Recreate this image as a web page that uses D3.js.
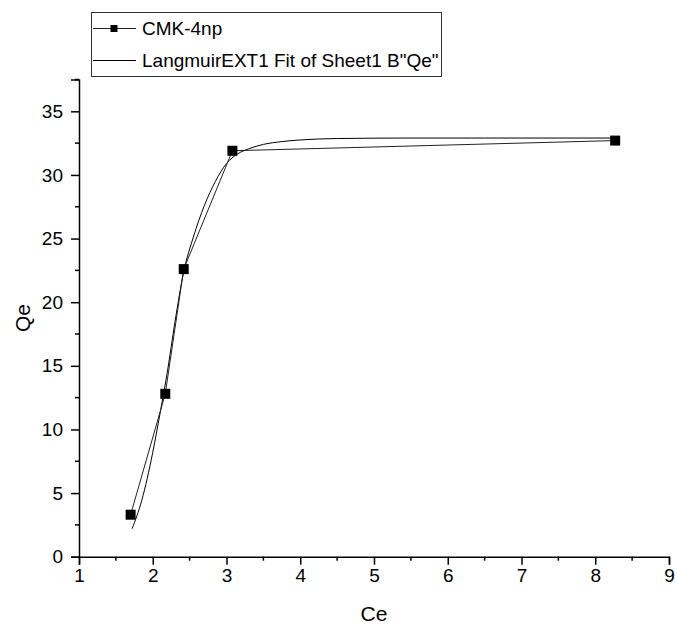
<!DOCTYPE html>
<html>
<head>
<meta charset="utf-8">
<script src="https://cdn.jsdelivr.net/npm/d3@7"></script>
<style>
  html, body { margin: 0; padding: 0; background: #fff; }
  svg { display: block; font-family: "Liberation Sans", Arial, sans-serif; }
</style>
</head>
<body>
<svg id="chart" width="675" height="631"></svg>
<script>
// Measured isotherm points (CMK-4np)
const ceValues = [1.70, 2.17, 2.42, 3.08, 8.27];
const qeValues = [3.3, 12.8, 22.6, 31.9, 32.7];

// LangmuirEXT1 fitted curve, sampled along Ce
const fitCe = [1.72, 1.85, 2.0, 2.1, 2.2, 2.3, 2.42, 2.55, 2.7, 2.85, 3.0, 3.15, 3.3, 3.5, 3.75, 4.0, 4.5, 5.5, 6.5, 7.5, 8.27];
const fitQe = [2.2, 4.4, 8.2, 11.3, 14.6, 18.4, 22.4, 25.1, 27.6, 29.5, 30.9, 31.65, 32.05, 32.4, 32.62, 32.75, 32.86, 32.9, 32.9, 32.9, 32.9];

const xTicks = [1, 2, 3, 4, 5, 6, 7, 8, 9];
const yTicks = [0, 5, 10, 15, 20, 25, 30, 35];
const xMinor = [1.5, 2.5, 3.5, 4.5, 5.5, 6.5, 7.5, 8.5];
const yMinor = [2.5, 7.5, 12.5, 17.5, 22.5, 27.5, 32.5, 37.5];

const seriesNames = ["CMK-4np", "LangmuirEXT1 Fit of Sheet1 B\"Qe\""];

const svg = d3.select("#chart");
const plotLeft = 79, plotRight = 669, plotTop = 79.5, plotBottom = 556.7;

const x = d3.scaleLinear().domain([1, 9]).range([plotLeft, plotRight]);
const y = d3.scaleLinear().domain([0, 37.5]).range([plotBottom, plotTop]);

const fontSize = 19;

// Fit curve
const fitData = fitCe.map((c, i) => [c, fitQe[i]]);
svg.append("path")
  .datum(fitData)
  .attr("fill", "none")
  .attr("stroke", "#000")
  .attr("stroke-width", 1)
  .attr("d", d3.line().x(d => x(d[0])).y(d => y(d[1])).curve(d3.curveMonotoneX));

// Data polyline
const pts = ceValues.map((c, i) => [c, qeValues[i]]);
svg.append("path")
  .datum(pts)
  .attr("fill", "none")
  .attr("stroke", "#222")
  .attr("stroke-width", 1)
  .attr("d", d3.line().x(d => x(d[0])).y(d => y(d[1])));

// Square markers
const ms = 10;
svg.selectAll("rect.pt").data(pts).enter().append("rect")
  .attr("class", "pt")
  .attr("x", d => x(d[0]) - ms / 2)
  .attr("y", d => y(d[1]) - ms / 2)
  .attr("width", ms).attr("height", ms)
  .attr("fill", "#000");

// X axis
const xAxis = svg.append("g").attr("transform", `translate(0,${plotBottom})`)
  .call(d3.axisBottom(x).tickValues(xTicks).tickSize(8).tickPadding(4).tickFormat(d3.format("d")));
xAxis.select(".domain").attr("stroke-width", 1.5);
xAxis.selectAll(".tick line").attr("stroke-width", 1.5);
xAxis.selectAll(".tick text").attr("font-size", fontSize).attr("fill", "#000")
  .attr("font-family", "Liberation Sans, Arial, sans-serif");
svg.append("g").attr("transform", `translate(0,${plotBottom})`)
  .selectAll("line").data(xMinor).enter().append("line")
  .attr("x1", d => x(d)).attr("x2", d => x(d))
  .attr("y1", 0).attr("y2", 4)
  .attr("stroke", "#000").attr("stroke-width", 1.5);

// Y axis
const yAxis = svg.append("g").attr("transform", `translate(${plotLeft},0)`)
  .call(d3.axisLeft(y).tickValues(yTicks).tickSize(8).tickPadding(8).tickFormat(d3.format("d")));
yAxis.select(".domain").attr("stroke-width", 1.5);
yAxis.selectAll(".tick line").attr("stroke-width", 1.5);
yAxis.selectAll(".tick text").attr("font-size", fontSize).attr("fill", "#000")
  .attr("font-family", "Liberation Sans, Arial, sans-serif");
svg.append("g").attr("transform", `translate(${plotLeft},0)`)
  .selectAll("line").data(yMinor).enter().append("line")
  .attr("x1", 0).attr("x2", -4)
  .attr("y1", d => y(d)).attr("y2", d => y(d))
  .attr("stroke", "#000").attr("stroke-width", 1.5);

// Axis titles
svg.append("text")
  .attr("x", (plotLeft + plotRight) / 2).attr("y", 621)
  .attr("text-anchor", "middle").attr("font-size", 21)
  .text("Ce");
svg.append("text")
  .attr("transform", `translate(30,318) rotate(-90)`)
  .attr("text-anchor", "middle").attr("font-size", 21)
  .text("Qe");

// Legend
const lg = svg.append("g");
lg.append("rect")
  .attr("x", 91.5).attr("y", 12.5).attr("width", 350).attr("height", 64)
  .attr("fill", "#fff").attr("stroke", "#333").attr("stroke-width", 1);
const rows = [28.5, 60.5];
lg.append("line").attr("x1", 93).attr("x2", 136).attr("y1", rows[0]).attr("y2", rows[0])
  .attr("stroke", "#222").attr("stroke-width", 1);
lg.append("rect").attr("x", 114 - 3.5).attr("y", rows[0] - 3.5).attr("width", 7).attr("height", 7)
  .attr("fill", "#000");
lg.append("line").attr("x1", 93).attr("x2", 136).attr("y1", rows[1]).attr("y2", rows[1])
  .attr("stroke", "#000").attr("stroke-width", 1);
lg.selectAll("text.lbl").data(seriesNames).enter().append("text")
  .attr("class", "lbl")
  .attr("x", 142).attr("y", (d, i) => rows[i] + 6)
  .attr("font-size", fontSize)
  .text(d => d);
</script>
</body>
</html>
